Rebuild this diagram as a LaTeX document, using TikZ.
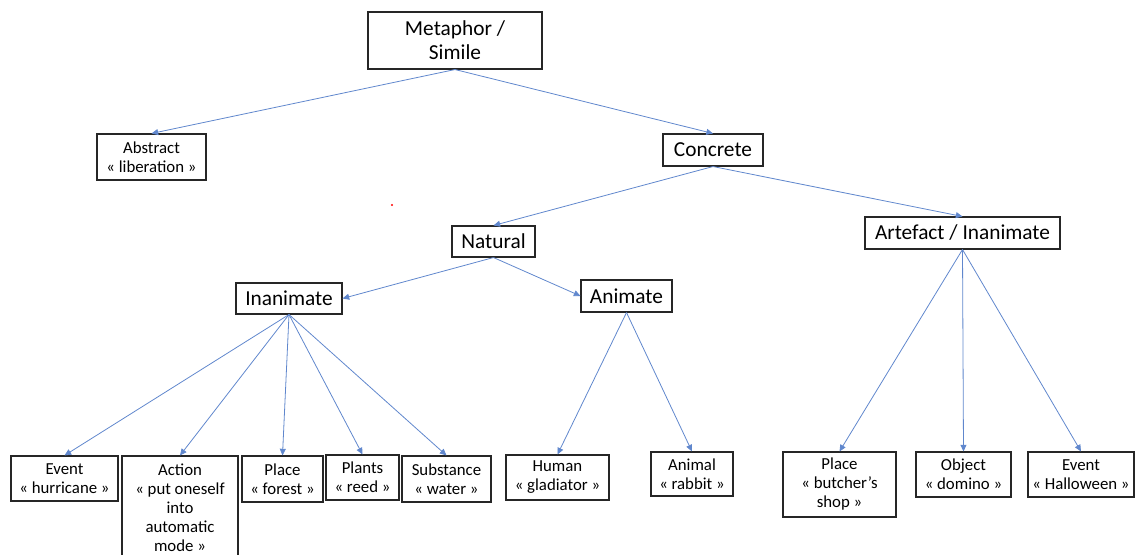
\documentclass[tikz,border=0pt]{standalone}
\usepackage{fontspec}
\setmainfont{Carlito}
\usetikzlibrary{arrows.meta}
\definecolor{linkblue}{HTML}{4472C4}
\begin{document}
\begin{tikzpicture}[x=0.75pt,y=-0.75pt,
	box/.style 2 args={draw=black!85, line width=0.8pt, minimum width=#1*0.75pt, minimum height=#2*0.75pt, inner sep=0pt, align=center},
	big/.style={font=\fontsize{16}{18}\selectfont},
	small/.style={font=\fontsize{12.6}{14.25}\selectfont},
	link/.style={draw=linkblue!85, line width=0.6pt, -{Triangle[length=5pt,width=4.5pt]}}]
		\useasboundingbox (0,0) rectangle (1136,554);
		% upper levels
		\node[box={174}{57}, big] (meta) at (455,40.5) {Metaphor /\\Simile};
		\node[box={109}{46}, small] (abs) at (151.5,157) {Abstract\\« liberation »};
		\node[box={100}{32}, big] (conc) at (713,150) {Concrete};
		\node[box={83}{31}, big] (nat) at (493.5,241.5) {Natural};
		\node[box={195}{32}, big] (art) at (962.5,233) {Artefact / Inanimate};
		\node[box={106}{31}, big] (inan) at (289,298.5) {Inanimate};
		\node[box={91}{32}, big] (anim) at (626.5,296) {Animate};
		% leaves
		\node[box={107}{45}, small] (ev1) at (64.5,478.5) {Event\\« hurricane »};
		\node[box={116}{104}, small] (act) at (180,508) {Action\\« put oneself\\into\\automatic\\mode »};
		\node[box={81}{46}, small] (pla1) at (282.5,479) {Place\\« forest »};
		\node[box={73}{45}, small] (plt) at (362.5,477.5) {Plants\\« reed »};
		\node[box={89}{46}, small] (sub) at (446.5,479) {Substance\\« water »};
		\node[box={103}{45}, small] (hum) at (557.5,477.5) {Human\\« gladiator »};
		\node[box={82}{44}, small] (ani) at (692,474) {Animal\\« rabbit »};
		\node[box={113}{65}, small] (pla2) at (839.5,484.5) {Place\\« butcher’s\\shop »};
		\node[box={95}{45}, small] (obj) at (963.5,474.5) {Object\\« domino »};
		\node[box={106}{45}, small] (ev2) at (1081,474.5) {Event\\« Halloween »};
		\fill[red] (392,205) circle[radius=0.8pt];
		% links
		\draw[link] (meta.south) -- (abs.north);
		\draw[link] (meta.south) -- (conc.north);
		\draw[link] (conc.south) -- (nat.north);
		\draw[link] (conc.south) -- (art.north);
		\draw[link] (nat.south) -- (inan.east);
		\draw[link] (nat.south) -- (anim.west);
		\foreach \leaf in {ev1,act,pla1,plt,sub}
			\draw[link] (inan.south) -- (\leaf.north);
		\foreach \leaf in {hum,ani}
			\draw[link] (anim.south) -- (\leaf.north);
		\foreach \leaf in {pla2,obj,ev2}
			\draw[link] (art.south) -- (\leaf.north);
\end{tikzpicture}
\end{document}
